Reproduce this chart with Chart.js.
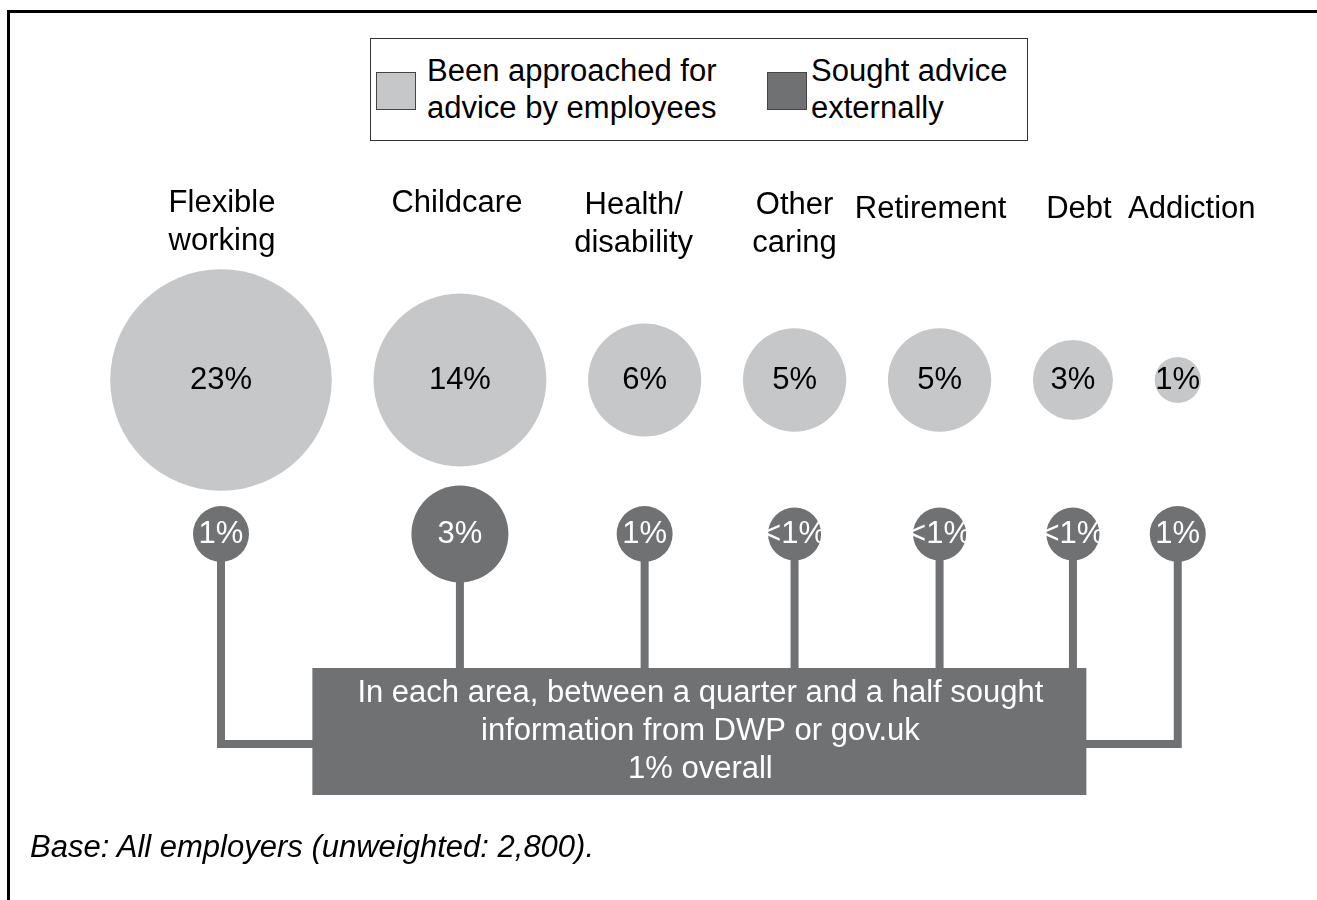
<!DOCTYPE html>
<html>
<head>
<meta charset="utf-8">
<title>Advice sought by employers</title>
<script src="https://cdn.jsdelivr.net/npm/chart.js@4/dist/chart.umd.min.js"></script>
<style>
  html, body { margin:0; padding:0; background:#fff; }
  body { width:1317px; height:900px; position:relative; overflow:hidden;
         font-family:"Liberation Sans", Arial, Helvetica, sans-serif; color:#000; }
  #c { position:absolute; left:0; top:0; }
  .frame-top  { position:absolute; left:7px; top:10px; width:1310px; height:3px; background:#000; }
  .frame-left { position:absolute; left:7px; top:10px; width:3px; height:890px; background:#000; }
  .legend { position:absolute; left:370px; top:38px; width:656px; height:101px;
            border:1.5px solid #333; background:#fff; }
  .sw { position:absolute; top:33px; width:38px; height:36px; border:1.5px solid #444; }
  .lt { position:absolute; top:13px; font-size:31px; line-height:37px; white-space:nowrap; }
  .note { position:absolute; left:30px; top:829px; font-size:31px; font-style:italic; white-space:nowrap; }
</style>
</head>
<body>
<canvas id="c" width="1317" height="900"></canvas>
<div class="frame-top"></div>
<div class="frame-left"></div>
<div class="legend">
  <div class="sw" style="left:5px;background:#c6c7c9"></div>
  <div class="lt" style="left:56px">Been approached for<br>advice by employees</div>
  <div class="sw" style="left:396px;background:#707173"></div>
  <div class="lt" style="left:440px">Sought advice<br>externally</div>
</div>
<div class="note">Base: All employers (unweighted: 2,800).</div>

<script>
// --- data -----------------------------------------------------------------
const CATEGORIES = ["Flexible\nworking", "Childcare", "Health/\ndisability", "Other\ncaring",
                    "Retirement", "Debt", "Addiction"];
const APPROACHED = [23, 14, 6, 5, 5, 3, 1];        // % approached by employees
const EXTERNAL   = [1, 3, 1, 0.9, 0.9, 0.9, 1];     // % sought advice externally (<1 shown as "<1%")
const CALLOUT = [
  "In each area, between a quarter and a half sought",
  "information from DWP or gov.uk",
  "1% overall"
];

// --- look -----------------------------------------------------------------
const LIGHT = "#c6c7c9";
const DARK  = "#707173";
const FONT  = '"Liberation Sans", Arial, Helvetica, sans-serif';
const LIGHT_K = 23.1;   // px of radius per sqrt(%)
const DARK_K  = 28;
const GAP = 41.7;       // space between neighbouring big circles
const ROW_LIGHT = 380, ROW_DARK = 534;
const RAIL_Y = 744, BOX_TOP = 668, BOX_BOTTOM = 795, BOX_W = 774;
const LABEL_TOP = [203, 203, 205, 205, 209, 209, 209];
const LABEL_NUDGE = [1, -3, -11, 0, -9, 6, 14];

const rLight = APPROACHED.map(v => LIGHT_K * Math.sqrt(v));
const rDark  = EXTERNAL.map(v => DARK_K * Math.sqrt(v));

// circles packed left to right, each sized by its value
const xPos = [0];
for (let i = 1; i < rLight.length; i++) xPos.push(xPos[i-1] + rLight[i-1] + GAP + rLight[i]);
const span = xPos[xPos.length - 1];

function pct(v){ return v < 1 ? "<1%" : v + "%"; }

// stems from the small circles down into the callout box
const stems = {
  id: "stems",
  beforeDatasetsDraw(chart){
    const ctx = chart.ctx, xs = chart.scales.x;
    const first = xs.getPixelForValue(xPos[0]), last = xs.getPixelForValue(span);
    const boxL = (first + last) / 2 - BOX_W / 2, boxR = boxL + BOX_W;
    const pts = chart.getDatasetMeta(1).data;
    ctx.save();
    ctx.strokeStyle = DARK; ctx.lineWidth = 8; ctx.lineJoin = "miter"; ctx.lineCap = "butt";
    pts.forEach((p, i) => {
      ctx.beginPath();
      ctx.moveTo(p.x, p.y);
      if (i === 0){ ctx.lineTo(p.x, RAIL_Y); ctx.lineTo(boxL + 2, RAIL_Y); }
      else if (i === pts.length - 1){ ctx.lineTo(p.x, RAIL_Y); ctx.lineTo(boxR - 2, RAIL_Y); }
      else ctx.lineTo(p.x, BOX_TOP + 2);
      ctx.stroke();
    });
    ctx.restore();
  }
};

// value labels, category headings and the callout box
const annotate = {
  id: "annotate",
  afterDatasetsDraw(chart){
    const ctx = chart.ctx, xs = chart.scales.x;
    ctx.save();
    ctx.font = "31px " + FONT;
    ctx.textAlign = "center"; ctx.textBaseline = "middle";

    chart.getDatasetMeta(0).data.forEach((p, i) => {
      ctx.fillStyle = "#000";
      ctx.fillText(pct(APPROACHED[i]), p.x, p.y);
      CATEGORIES[i].split("\n").forEach((line, j) => {
        ctx.fillText(line, p.x + LABEL_NUDGE[i], LABEL_TOP[i] + j * 38);
      });
    });
    chart.getDatasetMeta(1).data.forEach((p, i) => {
      ctx.fillStyle = "#fff";
      ctx.fillText(pct(EXTERNAL[i]), p.x, p.y);
    });

    const first = xs.getPixelForValue(xPos[0]), last = xs.getPixelForValue(span);
    const boxL = (first + last) / 2 - BOX_W / 2;
    ctx.fillStyle = DARK;
    ctx.fillRect(boxL, BOX_TOP, BOX_W, BOX_BOTTOM - BOX_TOP);
    ctx.fillStyle = "#fff";
    CALLOUT.forEach((line, j) => ctx.fillText(line, boxL + BOX_W / 2 + 1, 693 + j * 38));
    ctx.restore();
  }
};

new Chart(document.getElementById("c"), {
  type: "bubble",
  data: {
    datasets: [
      { label: "Been approached for advice by employees",
        data: APPROACHED.map((v, i) => ({ x: xPos[i], y: 1, r: rLight[i] })),
        backgroundColor: LIGHT, borderWidth: 0, clip: false },
      { label: "Sought advice externally",
        data: EXTERNAL.map((v, i) => ({ x: xPos[i], y: 0, r: rDark[i] })),
        backgroundColor: DARK, borderWidth: 0, clip: false }
    ]
  },
  options: {
    responsive: false,
    devicePixelRatio: 1,
    animation: false,
    events: [],
    layout: { padding: { left: 221, right: 1317 - 221 - span, top: ROW_LIGHT, bottom: 900 - ROW_DARK } },
    scales: {
      x: { type: "linear", display: false, min: 0, max: span },
      y: { type: "linear", display: false, min: 0, max: 1 }
    },
    plugins: { legend: { display: false }, tooltip: { enabled: false } }
  },
  plugins: [stems, annotate]
});
</script>
</body>
</html>
